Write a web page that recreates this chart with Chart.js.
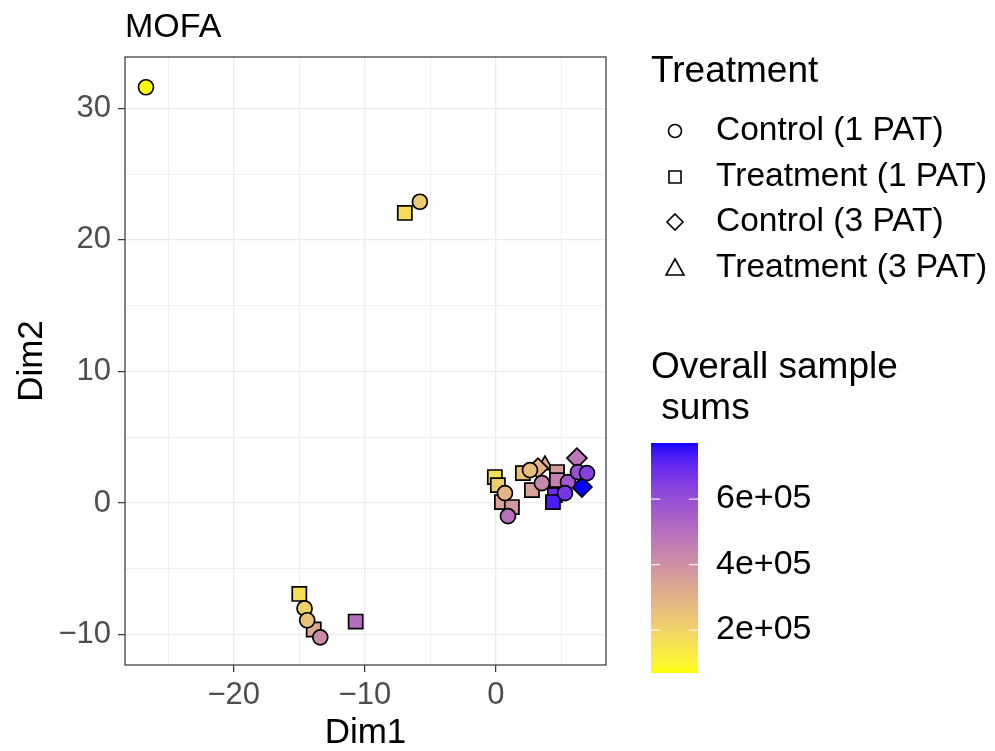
<!DOCTYPE html>
<html><head><meta charset="utf-8">
<script src="https://cdn.jsdelivr.net/npm/chart.js@4.4.0/dist/chart.umd.min.js"></script>
<style>html,body{margin:0;padding:0;background:#fff;}#wrap{position:relative;width:995px;height:751px;}</style>
</head><body><div id="wrap"><canvas id="c" width="995" height="751"></canvas></div>
<script>
// ---- data ----
const treatmentLabels = ["Control (1 PAT)", "Treatment (1 PAT)", "Control (3 PAT)", "Treatment (3 PAT)"];
const ctrl1Dim1 = [-26.7, -5.8, -14.6, -14.4, -13.4, 0.69, 0.92, 2.60, 3.51, 5.50, 6.26, 6.95, 5.27];
const ctrl1Dim2 = [31.6, 22.9, -8.0, -8.9, -10.2, 0.76, -0.99, 2.51, 1.52, 1.60, 2.36, 2.28, 0.76];
const ctrl1Sums = [69000, 228000, 205000, 250000, 420000, 290000, 500000, 265000, 430000, 570000, 590000, 640000, 670000];
const treat1Dim1 = [-6.95, -10.7, -15.0, -13.9, -0.08, 0.15, 0.46, 1.22, 2.06, 2.75, 4.66, 4.66, 4.50, 4.35];
const treat1Dim2 = [22.05, -9.0, -6.9, -9.6, 1.98, 1.37, 0.08, -0.30, 2.28, 0.99, 2.36, 1.75, 0.61, 0.08];
const treat1Sums = [175000, 510000, 160000, 330000, 165000, 215000, 345000, 380000, 250000, 355000, 370000, 450000, 690000, 730000];
const ctrl3Dim1 = [3.21, 6.18, 6.56];
const ctrl3Dim2 = [2.66, 3.42, 1.22];
const ctrl3Sums = [290000, 480000, 771000];
const treat3Dim1 = [3.74];
const treat3Dim2 = [2.89];
const treat3Sums = [320000];
const xTickValues = [-20, -10, 0];
const yTickValues = [-10, 0, 10, 20, 30];
const colorbarTicks = [200000, 400000, 600000];
const colorbarTickLabels = ["2e+05", "4e+05", "6e+05"];

// ---- colour scale (CIELAB interpolation yellow -> blue, like ggplot) ----
function lin(c){c/=255;return c<=0.04045?c/12.92:Math.pow((c+0.055)/1.055,2.4);}
function unlin(c){c=c<=0.0031308?12.92*c:1.055*Math.pow(c,1/2.4)-0.055;return Math.max(0,Math.min(255,Math.round(c*255)));}
const WX=0.95047,WY=1,WZ=1.08883;
function f(t){return t>0.008856?Math.cbrt(t):7.787*t+16/116;}
function finv(t){return t*t*t>0.008856?t*t*t:(t-16/116)/7.787;}
function rgb2lab(r,g,b){const R=lin(r),G=lin(g),B=lin(b);
 const X=(0.4124*R+0.3576*G+0.1805*B)/WX,Y=(0.2126*R+0.7152*G+0.0722*B)/WY,Z=(0.0193*R+0.1192*G+0.9505*B)/WZ;
 const fx=f(X),fy=f(Y),fz=f(Z);return [116*fy-16,500*(fx-fy),200*(fy-fz)];}
function lab2rgb(L,a,b){const fy=(L+16)/116,fx=fy+a/500,fz=fy-b/200;
 const X=finv(fx)*WX,Y=finv(fy)*WY,Z=finv(fz)*WZ;
 const R=3.2406*X-1.5372*Y-0.4986*Z,G=-0.9689*X+1.8758*Y+0.0415*Z,B=0.0557*X-0.2040*Y+1.0570*Z;
 return 'rgb('+unlin(R)+','+unlin(G)+','+unlin(B)+')';}
const LOW=rgb2lab(255,255,0),HIGH=rgb2lab(0,0,255);
const allSums=[...ctrl1Sums,...treat1Sums,...ctrl3Sums,...treat3Sums];
const vmin=Math.min(...allSums),vmax=Math.max(...allSums);
function colourFor(v){const t=Math.max(0,Math.min(1,(v-vmin)/(vmax-vmin)));
 return lab2rgb(LOW[0]+(HIGH[0]-LOW[0])*t,LOW[1]+(HIGH[1]-LOW[1])*t,LOW[2]+(HIGH[2]-LOW[2])*t);}

function pts(xs,ys){return xs.map((x,i)=>({x:x,y:ys[i]}));}
const FONT='"Liberation Sans", Arial, Helvetica, sans-serif';
const series=[
 {label:treatmentLabels[0],data:pts(ctrl1Dim1,ctrl1Dim2),sums:ctrl1Sums,style:'circle',r:7.5},
 {label:treatmentLabels[1],data:pts(treat1Dim1,treat1Dim2),sums:treat1Sums,style:'rect',r:10},
 {label:treatmentLabels[2],data:pts(ctrl3Dim1,ctrl3Dim2),sums:ctrl3Sums,style:'rectRot',r:10},
 {label:treatmentLabels[3],data:pts(treat3Dim1,treat3Dim2),sums:treat3Sums,style:'triangle',r:9}
];
const datasets=series.map(s=>({label:s.label,data:s.data,pointStyle:s.style,pointRadius:s.r,pointHoverRadius:s.r,
 backgroundColor:s.sums.map(colourFor),borderColor:'#000',borderWidth:1.7}));

const isMajor=(ctx)=>ctx.tick&&Math.abs(ctx.tick.value%10)<1e-9;
const fmt=(v)=>(v<0?'\u2212'+Math.abs(v):String(v));

const decor={id:'decor',
 afterDraw(chart){const ctx=chart.ctx,a=chart.chartArea;ctx.save();
  ctx.strokeStyle='#333';ctx.lineWidth=1.2;ctx.strokeRect(a.left,a.top,a.right-a.left,a.bottom-a.top);
  ctx.fillStyle='#000';ctx.textBaseline='alphabetic';
  ctx.font='34px '+FONT;ctx.textAlign='left';ctx.fillText('MOFA',a.left,37);
  ctx.font='35px '+FONT;ctx.textAlign='center';ctx.fillText('Dim1',(a.left+a.right)/2,743);
  ctx.save();ctx.translate(42,(a.top+a.bottom)/2);ctx.rotate(-Math.PI/2);ctx.fillText('Dim2',0,0);ctx.restore();
  // shape legend
  ctx.textAlign='left';ctx.textBaseline='middle';
  ctx.font='37px '+FONT;ctx.fillText('Treatment',651,72);
  const ly=[131,177,222,268];
  ctx.font='33.5px '+FONT;
  series.forEach((s,i)=>{ctx.fillStyle='#000';ctx.fillText(s.label,716,ly[i]);
   ctx.beginPath();ctx.lineWidth=1.6;ctx.strokeStyle='#000';const cx=675,cy=ly[i];
   if(s.style==='circle'){ctx.arc(cx,cy,6.5,0,Math.PI*2);}
   else if(s.style==='rect'){ctx.rect(cx-6,cy-6,12,12);}
   else if(s.style==='rectRot'){ctx.moveTo(cx,cy-8);ctx.lineTo(cx+8,cy);ctx.lineTo(cx,cy+8);ctx.lineTo(cx-8,cy);ctx.closePath();}
   else {ctx.moveTo(cx,cy-9);ctx.lineTo(cx+9,cy+7);ctx.lineTo(cx-9,cy+7);ctx.closePath();}
   ctx.stroke();});
  // colour legend
  ctx.fillStyle='#000';ctx.font='37px '+FONT;ctx.fillText('Overall sample',651,368);ctx.fillText(' sums',651,409);
  const bx=651,bw=47,bt=443,bb=673;
  for(let y=bt;y<bb;y++){const v=vmax-(y+0.5-bt)/(bb-bt)*(vmax-vmin);ctx.fillStyle=colourFor(v);ctx.fillRect(bx,y,bw,1);}
  ctx.font='34px '+FONT;
  colorbarTicks.forEach((v,i)=>{const y=bb-(v-vmin)/(vmax-vmin)*(bb-bt);
   ctx.strokeStyle='rgba(255,255,255,0.85)';ctx.lineWidth=1.2;ctx.beginPath();
   ctx.moveTo(bx,y);ctx.lineTo(bx+9,y);ctx.moveTo(bx+bw-9,y);ctx.lineTo(bx+bw,y);ctx.stroke();
   ctx.fillStyle='#000';ctx.fillText(colorbarTickLabels[i],716,y);});
  ctx.restore();}};

new Chart(document.getElementById('c'),{type:'scatter',data:{datasets},
 options:{responsive:false,animation:false,events:[],
  layout:{padding:{top:57,right:389,left:0,bottom:0}},
  plugins:{legend:{display:false},tooltip:{enabled:false},title:{display:false}},
  scales:{
   x:{type:'linear',min:-28.3,max:8.4,afterFit:(s)=>{s.height=86;},
    border:{display:false},
    grid:{color:'#EBEBEB',lineWidth:(c)=>isMajor(c)?1.3:0.8,drawTicks:true,tickLength:7,tickWidth:1.2,
      tickColor:(c)=>isMajor(c)&&xTickValues.includes(c.tick.value)?'#333':'rgba(0,0,0,0)'},
    ticks:{stepSize:5,includeBounds:false,autoSkip:false,maxRotation:0,padding:5,color:'#4D4D4D',font:{family:FONT,size:31},
      callback:(v)=>xTickValues.includes(v)?fmt(v):''}},
   y:{type:'linear',min:-12.3,max:33.9,afterFit:(s)=>{s.width=125;},
    border:{display:false},
    grid:{color:'#EBEBEB',lineWidth:(c)=>isMajor(c)?1.3:0.8,drawTicks:true,tickLength:7,tickWidth:1.2,
      tickColor:(c)=>isMajor(c)&&yTickValues.includes(c.tick.value)?'#333':'rgba(0,0,0,0)'},
    ticks:{stepSize:5,includeBounds:false,autoSkip:false,padding:7,color:'#4D4D4D',font:{family:FONT,size:31},
      callback:(v)=>yTickValues.includes(v)?fmt(v):''}}
  }},
 plugins:[decor]});
</script></body></html>
